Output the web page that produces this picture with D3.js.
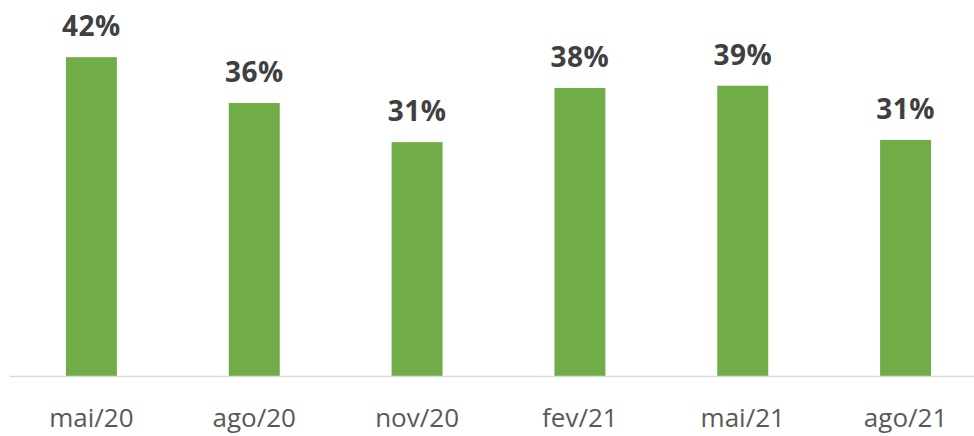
<!DOCTYPE html>
<html>
<head>
<meta charset="utf-8">
<script src="https://cdn.jsdelivr.net/npm/d3@7"></script>
<style>
  body { margin: 0; background: #fff; }
  svg { display: block; font-family: "Open Sans", sans-serif; }
</style>
</head>
<body>
<svg class="chart-svg"></svg>
<script>
const categories = ["mai/20", "ago/20", "nov/20", "fev/21", "mai/21", "ago/21"];
const values = [42.4, 36.3, 31.1, 38.3, 38.6, 31.4];

const width = 974;
const height = 436;
const baseline = 376;

const svg = d3.select(".chart-svg")
    .attr("width", width)
    .attr("height", height);

const x = d3.scaleBand()
    .domain(categories)
    .range([10, 987])
    .paddingInner(0.687)
    .paddingOuter(0.3435);

const y = d3.scaleLinear().domain([0, 50]).range([baseline, 0]);

// bars
svg.selectAll("rect.bar")
    .data(values)
    .enter()
    .append("rect")
    .attr("class", "bar")
    .attr("x", (d, i) => x(categories[i]))
    .attr("y", d => y(d))
    .attr("width", x.bandwidth())
    .attr("height", d => baseline - y(d))
    .attr("fill", "#70AD47");

// axis line
svg.append("line")
    .attr("x1", 10)
    .attr("x2", width)
    .attr("y1", baseline + 0.5)
    .attr("y2", baseline + 0.5)
    .attr("stroke", "#D9D9D9")
    .attr("stroke-width", 1.5);

// value labels
svg.selectAll("text.val")
    .data(values)
    .enter()
    .append("text")
    .attr("class", "val")
    .attr("x", (d, i) => x(categories[i]) + x.bandwidth() / 2)
    .attr("y", d => y(d) - 21)
    .attr("text-anchor", "middle")
    .attr("font-size", 28)
    .attr("font-weight", "bold")
    .attr("letter-spacing", 0.5)
    .attr("fill", "#404040")
    .text(d => Math.round(d) + "%");

// category labels
svg.selectAll("text.cat")
    .data(categories)
    .enter()
    .append("text")
    .attr("class", "cat")
    .attr("x", d => x(d) + x.bandwidth() / 2)
    .attr("y", 427)
    .attr("text-anchor", "middle")
    .attr("font-size", 26)
    .attr("fill", "#595959")
    .text(d => d);
</script>
</body>
</html>
